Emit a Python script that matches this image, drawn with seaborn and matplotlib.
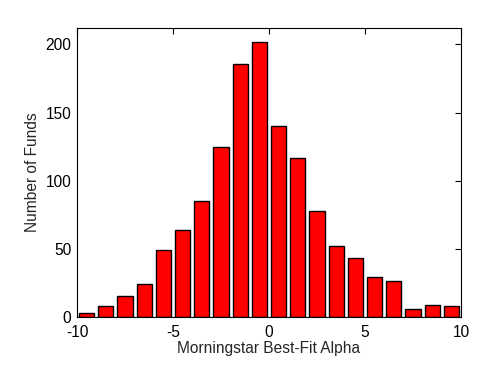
import matplotlib
matplotlib.use("Agg")
import matplotlib.pyplot as plt
import seaborn as sns
import pandas as pd

centers = [-9.5, -8.5, -7.5, -6.5, -5.5, -4.5, -3.5, -2.5, -1.5, -0.5,
           0.5, 1.5, 2.5, 3.5, 4.5, 5.5, 6.5, 7.5, 8.5, 9.5]
counts = [3, 8, 15, 24, 49, 64, 85, 125, 186, 202,
          140, 117, 78, 52, 43, 29, 26, 6, 9, 8]
xticks = [-10, -5, 0, 5, 10]
yticks = [0, 50, 100, 150, 200]

sns.set_style("white")
plt.rcParams['font.family'] = ['Liberation Sans', 'DejaVu Sans']

df = pd.DataFrame({"alpha": centers, "n": counts})

fig = plt.figure(figsize=(5, 3.75), dpi=100)
ax = fig.add_axes([0.154, 0.155, 0.768, 0.770])
sns.barplot(data=df, x="alpha", y="n", native_scale=True, width=0.8,
            color="#ff0000", saturation=1, edgecolor="black", linewidth=1,
            ax=ax)
ax.set_xlim(-10, 10)
ax.set_ylim(0, 212)
ax.set_xticks(xticks)
ax.set_yticks(yticks)
ax.set_xticklabels([str(v) for v in xticks])
ax.set_yticklabels([str(v) for v in yticks])
ax.set_xlabel("Morningstar Best-Fit Alpha", fontsize=11.2, labelpad=1)
ax.set_ylabel("Number of Funds", fontsize=11.2, labelpad=4)
ax.tick_params(direction="in", top=True, right=True, length=4, width=0.8,
               labelsize=11.2, colors="black")
ax.tick_params(axis="x", pad=5.5)
ax.tick_params(axis="y", pad=4)
for s in ax.spines.values():
    s.set_visible(True)
    s.set_color("black")
    s.set_linewidth(0.8)
fig.savefig("out.png", dpi=100)
